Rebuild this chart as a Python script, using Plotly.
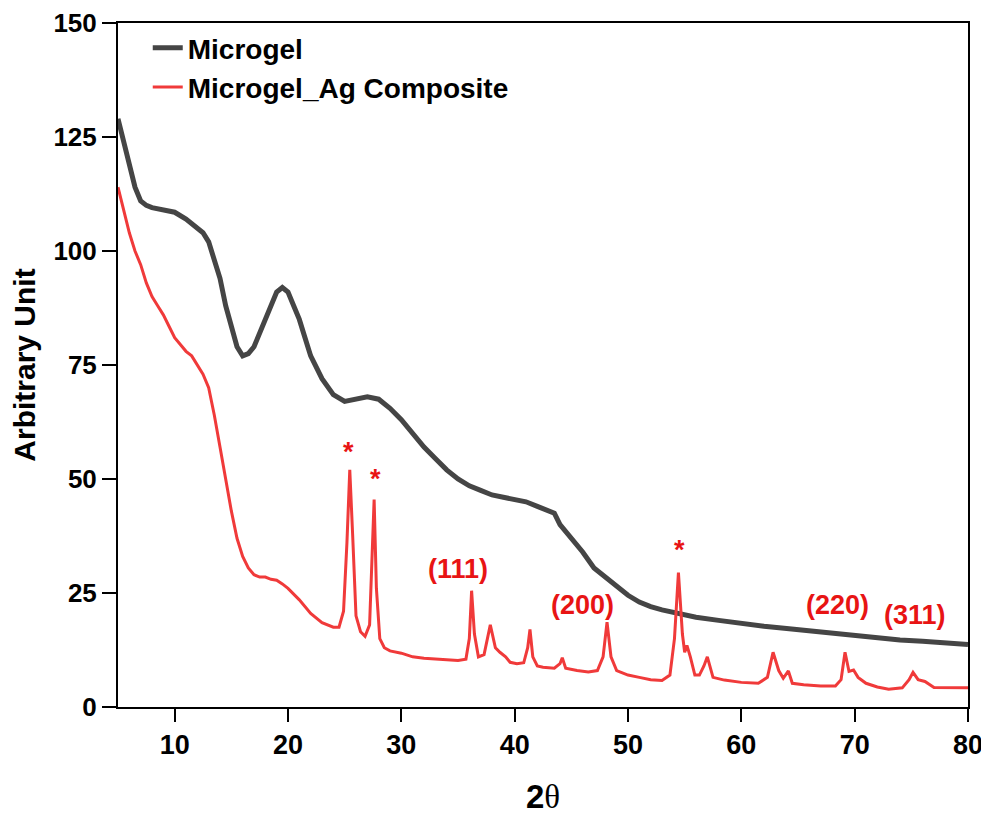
import plotly.graph_objects as go

# ---- data ----
microgel_x = [5, 5.5, 6, 6.5, 7, 7.5, 8, 9, 10, 11,
              12, 12.5, 13, 13.5, 14, 14.5, 15, 15.5, 16, 16.5,
              17, 17.5, 18, 18.5, 19, 19.5, 20, 20.5, 21, 21.5,
              22, 23, 24, 25, 26, 27, 28, 29, 30, 31,
              32, 33, 34, 35, 36, 37, 38, 39, 40, 41,
              42, 43, 43.5, 44, 45, 46, 47, 48, 49, 50,
              51, 52, 53, 54, 55, 56, 58, 60, 62, 64,
              66, 68, 70, 72, 74, 76, 78, 80]
microgel_y = [129, 124, 118, 114, 111, 110, 109.5, 109, 108.5, 107,
              105, 104, 102, 98, 94, 88, 83, 79, 77, 77.5,
              79, 82, 85, 88, 91, 92, 91, 88, 85, 81,
              77, 72, 68.5, 67, 67.5, 68, 67.5, 65.5, 63, 60,
              57, 54.5, 52, 50, 48.5, 47.5, 46.5, 46, 45.5, 45,
              44, 43, 42.5, 40, 37, 34, 30.5, 28.5, 26.5, 24.5,
              23, 22, 21.3, 20.7, 20.2, 19.7, 19, 18.3, 17.7, 17.2,
              16.7, 16.2, 15.6, 15.1, 14.7, 14.4, 14, 13.7]

composite_x = [5, 5.5, 6, 6.5, 7, 7.5, 8, 8.5, 9, 9.5,
               10, 10.5, 11, 11.5, 12, 12.5, 13, 13.5, 14, 14.5,
               15, 15.5, 16, 16.5, 17, 17.5, 18, 18.5, 19, 19.5,
               20, 21, 22, 23, 24, 24.5, 24.9, 25.2, 25.45, 25.7,
               26.0, 26.4, 26.8, 27.2, 27.45, 27.6, 27.8, 28.1, 28.5, 29,
               30, 31, 32, 33, 34, 35, 35.7, 36.0, 36.2, 36.45,
               36.8, 37.3, 37.85, 38.3, 38.7, 39.2, 39.6, 40.2, 40.8, 41.15,
               41.35, 41.6, 42.0, 42.5, 43.5, 44.0, 44.2, 44.5, 45.5, 46.5,
               47.3, 47.8, 48.15, 48.5, 49.0, 50, 51, 52, 53, 53.7,
               54.1, 54.45, 54.8, 55.0, 55.2, 55.5, 55.9, 56.3, 56.7, 57.0,
               57.5, 58.5, 60, 61.5, 62.3, 62.8, 63.3, 63.7, 64.15, 64.5,
               65.5, 67, 68.3, 68.8, 69.15, 69.5, 69.9, 70.3, 71, 72,
               73, 74.2, 74.8, 75.15, 75.6, 76.2, 77, 77.6, 78.5, 80]
composite_y = [114, 109, 104, 100, 97, 93, 90, 88, 86, 83.5,
               81, 79.5, 78, 77, 75, 73, 70, 64, 57, 50,
               43, 37, 33, 30.5, 29, 28.5, 28.5, 28, 27.8, 27,
               26, 23.5, 20.5, 18.5, 17.5, 17.5, 21, 36, 52, 38,
               20, 16.5, 15.5, 18, 35, 45.5, 26, 15, 13, 12.3,
               11.8, 11, 10.7, 10.5, 10.3, 10.2, 10.5, 15, 25.5, 16,
               11, 11.5, 18, 13, 12, 11, 9.8, 9.5, 9.7, 13,
               17, 11, 9, 8.7, 8.5, 9.5, 10.8, 8.5, 8, 7.7,
               8, 11, 18.6, 11, 8, 7, 6.5, 6, 5.8, 7,
               15, 29.5, 16, 12, 13.5, 11, 7, 7, 9, 11,
               6.5, 5.9, 5.4, 5.2, 6.5, 12, 8, 6.3, 7.9, 5.2,
               4.9, 4.6, 4.6, 6, 12, 7.8, 8.1, 6.5, 5.2, 4.4,
               3.9, 4.2, 6, 7.6, 6, 5.6, 4.3, 4.3, 4.2, 4.2]

label_text = ["*", "*", "(111)", "(200)", "*", "(220)", "(311)"]
label_x = [25.3, 27.7, 35.0, 46.0, 54.5, 68.5, 75.3]
label_y = [56, 50, 30.3, 22.3, 34.5, 22.3, 20.1]

x_ticks = [10, 20, 30, 40, 50, 60, 70, 80]
y_ticks = [0, 25, 50, 75, 100, 125, 150]

assert len(microgel_x) == len(microgel_y)
assert len(composite_x) == len(composite_y)

FONT = "Liberation Sans, Arial, sans-serif"
GRAY = "#454545"
RED = "#f03a3a"
TXT_RED = "#e81414"

fig = go.Figure()
fig.add_trace(go.Scatter(x=microgel_x, y=microgel_y, mode="lines", name="Microgel",
                         line=dict(color=GRAY, width=5)))
fig.add_trace(go.Scatter(x=composite_x, y=composite_y, mode="lines", name="Microgel_Ag Composite",
                         line=dict(color=RED, width=3)))

for t, xv, yv in zip(label_text, label_x, label_y):
    fig.add_annotation(x=xv, y=yv, text=t, showarrow=False,
                       font=dict(family=FONT, size=27, color=TXT_RED, weight="bold"))

# page body has an 8px margin, so the figure is sized to fit the 989x817 window
fig.update_layout(
    template="none",
    width=981, height=809,
    margin=dict(l=110, r=21, t=15, b=110),
    paper_bgcolor="white", plot_bgcolor="white",
    font=dict(family=FONT, color="black", weight="bold"),
    legend=dict(x=0.035, y=1.0, xanchor="left", yanchor="top",
                bgcolor="rgba(0,0,0,0)",
                font=dict(family=FONT, size=28, color="black", weight="bold")),
    showlegend=True,
)
fig.update_xaxes(range=[5, 80], tickvals=x_ticks, ticks="outside", ticklen=13, tickwidth=2,
                 tickcolor="black", automargin=False,
                 showline=True, linewidth=2, linecolor="black", mirror=True,
                 showgrid=False, zeroline=False,
                 tickfont=dict(family=FONT, size=27, color="black", weight="bold"),
                 title=dict(text="2<span style=\"font-family:'Liberation Serif';font-weight:normal\">θ</span>",
                            font=dict(family=FONT, size=33, color="black", weight="bold"),
                            standoff=25))
fig.update_yaxes(range=[0, 150], tickvals=y_ticks, ticks="outside", ticklen=14, tickwidth=2,
                 tickcolor="black", automargin=False,
                 showline=True, linewidth=2, linecolor="black", mirror=True,
                 showgrid=False, zeroline=False,
                 tickfont=dict(family=FONT, size=26, color="black", weight="bold"),
                 title=dict(text="Arbitrary Unit",
                            font=dict(family=FONT, size=30, color="black", weight="bold"),
                            standoff=38))

fig.write_html("out.html")
